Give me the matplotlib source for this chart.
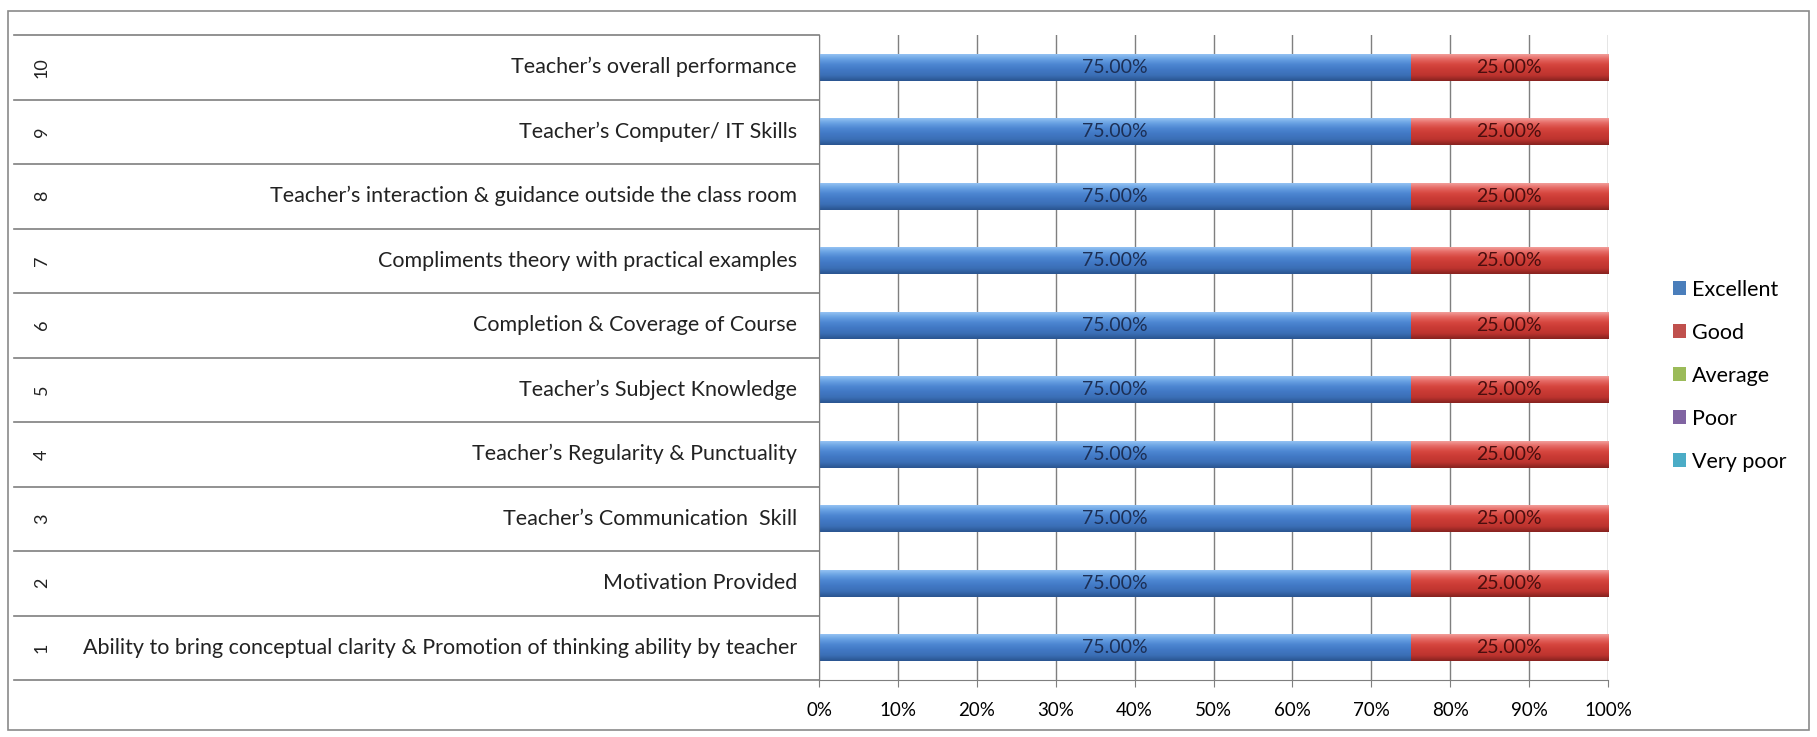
import numpy as np
import matplotlib
matplotlib.use("Agg")
import matplotlib.pyplot as plt
import matplotlib.patches as patches
import matplotlib.transforms as mtransforms
from matplotlib.colors import LinearSegmentedColormap

plt.rcParams['font.family'] = ['Lato', 'DejaVu Sans']

# data
row_numbers = ["1", "2", "3", "4", "5", "6", "7", "8", "9", "10"]
categories = [
    "Ability to bring conceptual clarity & Promotion of thinking ability by teacher",
    "Motivation Provided",
    "Teacher\u2019s Communication  Skill",
    "Teacher\u2019s Regularity & Punctuality",
    "Teacher\u2019s Subject Knowledge",
    "Completion & Coverage of Course",
    "Compliments theory with practical examples",
    "Teacher\u2019s interaction & guidance outside the class room",
    "Teacher\u2019s Computer/ IT Skills",
    "Teacher\u2019s overall performance",
]
excellent = [0.75] * 10
good = [0.25] * 10
average = [0.0] * 10
poor = [0.0] * 10
very_poor = [0.0] * 10

series_names = ["Excellent", "Good", "Average", "Poor", "Very poor"]
series_vals = [excellent, good, average, poor, very_poor]
series_colors = ["#4a7ebb", "#c0504d", "#9bbb59", "#8064a2", "#4bacc6"]
gradients = {
    0: ["#9cc8f5", "#6aa3e4", "#4d87d2", "#4178c4", "#3b6fb6", "#2a5590"],
    1: ["#f4a8a4", "#e66a65", "#d6463f", "#c93a34", "#bd342f", "#86221f"],
}
label_colors = {0: "#1c2f55", 1: "#4a0e0e"}

W, H = 1817, 737
fig = plt.figure(figsize=(W / 100, H / 100), dpi=100)

# outer chart frame
fig.patches.append(patches.Rectangle((8 / W, 1 - 730 / H), (1809 - 8) / W, (730 - 11) / H,
                                     transform=fig.transFigure, fill=False,
                                     edgecolor="#8a8a8a", lw=1.2))

px_left, px_right, px_top, px_bot = 819, 1608, 35, 680
ax = fig.add_axes([px_left / W, 1 - px_bot / H, (px_right - px_left) / W, (px_bot - px_top) / H])

y = np.arange(1, len(categories) + 1)
left = np.zeros(len(categories))
bar_h = 0.42
for i, (name, vals, col) in enumerate(zip(series_names, series_vals, series_colors)):
    bars = ax.barh(y, vals, left=left, height=bar_h, color=col, edgecolor="none", zorder=2)
    for b, v in zip(bars, vals):
        if v <= 0:
            continue
        if i in gradients:
            cm = LinearSegmentedColormap.from_list("g%d" % i, gradients[i])
            grad = np.linspace(0, 1, 64).reshape(-1, 1)
            x0, y0 = b.get_x(), b.get_y()
            im = ax.imshow(grad, extent=[x0, x0 + b.get_width(), y0, y0 + b.get_height()],
                           cmap=cm, aspect="auto", origin="upper", zorder=2.1,
                           interpolation="bicubic")
            im.set_clip_path(b)
        ax.text(b.get_x() + b.get_width() / 2, b.get_y() + b.get_height() / 2,
                "%.2f%%" % (v * 100), ha="center", va="center",
                fontsize=14, color=label_colors.get(i, "black"), zorder=3)
    left = left + np.array(vals)

ax.set_xlim(0, 1)
ax.set_ylim(0.5, len(categories) + 0.5)
ax.set_xticks(np.arange(0, 1.01, 0.1))
ax.set_xticklabels(["%d%%" % round(t * 100) for t in np.arange(0, 1.01, 0.1)], fontsize=13.5)
ax.set_yticks([])
ax.grid(axis="x", color="#7f7f7f", lw=1.0, zorder=0)
ax.tick_params(axis="x", length=5, direction="out", color="#7f7f7f", pad=11)
for s in ["top", "right"]:
    ax.spines[s].set_visible(False)
ax.spines["left"].set_color("#7f7f7f")
ax.spines["bottom"].set_color("#7f7f7f")

# multi-level category axis
trans = mtransforms.blended_transform_factory(fig.transFigure, ax.transData)
for k in range(len(categories) + 1):
    ax.plot([14 / W, px_left / W], [k + 0.5, k + 0.5], transform=trans,
            color="#7f7f7f", lw=1.2, clip_on=False)
for yy, num, cat in zip(y, row_numbers, categories):
    ax.text(42 / W, yy, num, transform=trans, rotation=90, ha="center", va="center",
            fontsize=13, color="#222222")
    ax.text(797 / W, yy, cat, transform=trans, ha="right", va="center",
            fontsize=15.5, color="#222222")

# legend
handles = [patches.Patch(facecolor=c, edgecolor="none") for c in series_colors]
fig.legend(handles, series_names, loc="upper left", bbox_to_anchor=(1664 / W, 1 - 271 / H),
           frameon=False, fontsize=15.5, handlelength=0.6, handleheight=0.6,
           handletextpad=0.3, labelspacing=1.07, borderaxespad=0)

fig.savefig("out.png", dpi=100, facecolor="white")
